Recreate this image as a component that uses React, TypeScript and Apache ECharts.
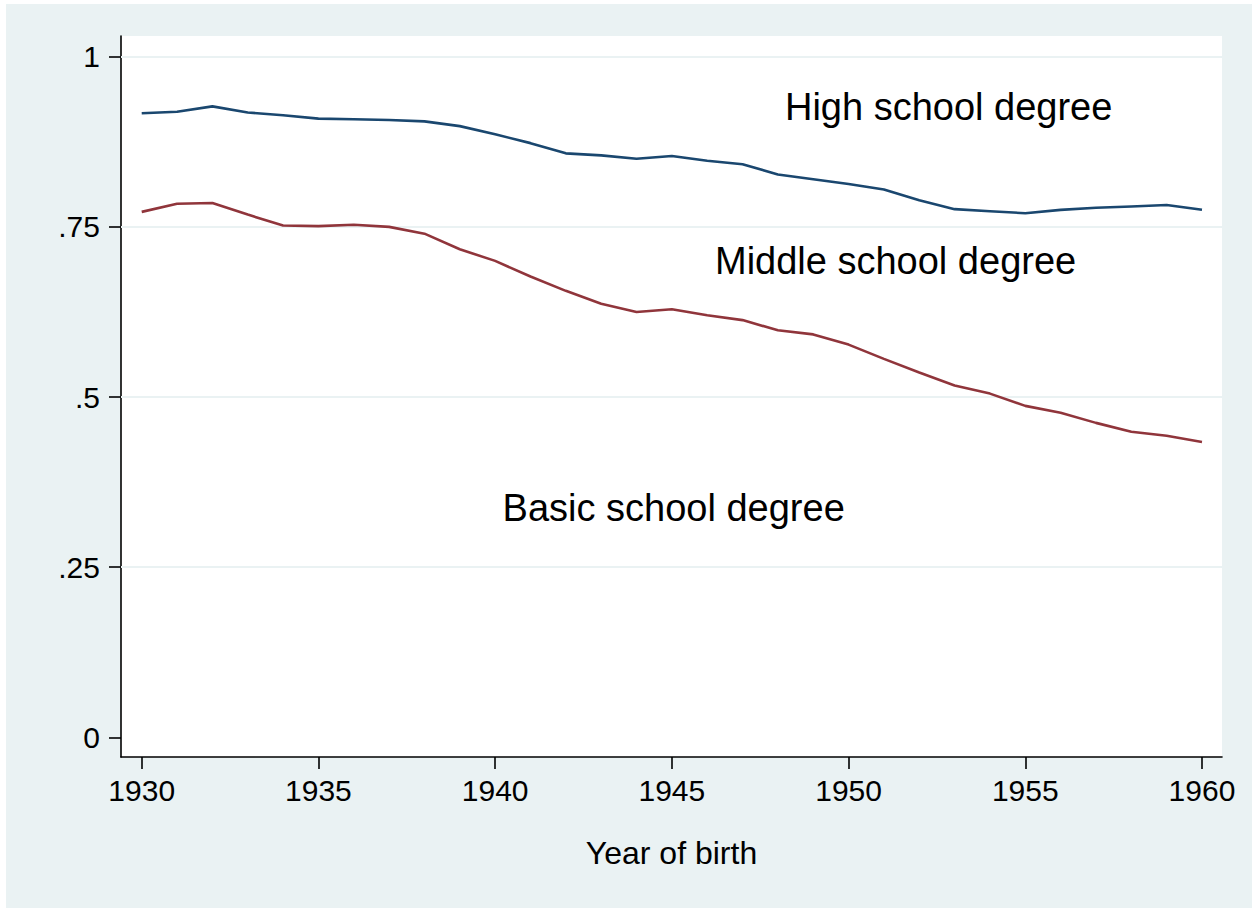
import React, { useEffect, useRef } from "react";
import * as echarts from "echarts";

const years = [
  1930, 1931, 1932, 1933, 1934, 1935, 1936, 1937, 1938, 1939,
  1940, 1941, 1942, 1943, 1944, 1945, 1946, 1947, 1948, 1949,
  1950, 1951, 1952, 1953, 1954, 1955, 1956, 1957, 1958, 1959, 1960,
];

// upper boundary (between middle and high school degree)
const upperShare = [
  0.917, 0.919, 0.927, 0.918, 0.914, 0.909, 0.908, 0.907, 0.905, 0.898,
  0.886, 0.873, 0.858, 0.855, 0.85, 0.854, 0.847, 0.842, 0.827, 0.82,
  0.813, 0.805, 0.789, 0.776, 0.773, 0.77, 0.775, 0.778, 0.78, 0.782, 0.775,
];

// lower boundary (between basic and middle school degree)
const lowerShare = [
  0.772, 0.784, 0.785, 0.768, 0.752, 0.751, 0.753, 0.75, 0.74, 0.717,
  0.7, 0.677, 0.656, 0.637, 0.625, 0.629, 0.62, 0.613, 0.598, 0.592,
  0.577, 0.556, 0.536, 0.517, 0.505, 0.487, 0.477, 0.462, 0.449, 0.443, 0.434,
];

const xTicks = [1930, 1935, 1940, 1945, 1950, 1955, 1960];
const yTicks = [0, 0.25, 0.5, 0.75, 1];
const yTickLabels = ["0", ".25", ".5", ".75", "1"];
const gridValues = [0.25, 0.5, 0.75, 1];

const annotationTexts = ["High school degree", "Middle school degree", "Basic school degree"];
const annotationX = [1948.2, 1946.22, 1940.21];
const annotationY = [0.9265, 0.6995, 0.3372];

const FONT = "'Liberation Sans', Arial, Helvetica, sans-serif";

export default function App() {
  const ref = useRef<HTMLDivElement>(null);

  useEffect(() => {
    document.body.style.margin = "0";
    if (!ref.current) return;
    const chart = echarts.init(ref.current, undefined, { renderer: "svg" });

    const option: any = {
      animation: false,
      backgroundColor: "#ffffff",
      graphic: [
        {
          type: "rect",
          z: -10,
          silent: true,
          shape: { x: 6, y: 4, width: 1246, height: 904 },
          style: { fill: "#EAF2F3" },
        },
      ],
      grid: {
        left: 121,
        top: 36,
        right: 30,
        bottom: 151,
        show: true,
        backgroundColor: "#ffffff",
        borderWidth: 0,
      },
      xAxis: {
        type: "value",
        min: 1929.414,
        max: 1960.566,
        name: "Year of birth",
        nameLocation: "middle",
        nameGap: 80,
        nameTextStyle: { fontFamily: FONT, fontSize: 32, color: "#000", verticalAlign: "top" },
        axisLine: { show: true, onZero: false, lineStyle: { color: "#000", width: 1.6 } },
        axisTick: { show: true, length: 12, customValues: xTicks, lineStyle: { color: "#000", width: 1.6 } },
        axisLabel: {
          show: true,
          customValues: xTicks,
          margin: 18,
          fontFamily: FONT,
          fontSize: 30,
          color: "#000",
          formatter: (v: number) => String(v),
        },
        splitLine: { show: false },
      },
      yAxis: {
        type: "value",
        min: -0.0289,
        max: 1.0304,
        axisLine: { show: true, onZero: false, lineStyle: { color: "#000", width: 1.6 } },
        axisTick: { show: true, length: 12, customValues: yTicks, lineStyle: { color: "#000", width: 1.6 } },
        axisLabel: {
          show: true,
          customValues: yTicks,
          margin: 21,
          fontFamily: FONT,
          fontSize: 30,
          color: "#000",
          formatter: (v: number) => {
            const i = yTicks.findIndex((t) => Math.abs(t - v) < 1e-6);
            return i >= 0 ? yTickLabels[i] : "";
          },
        },
        splitLine: { show: false },
      },
      series: [
        {
          name: "grid",
          type: "line",
          data: [],
          z: 1,
          silent: true,
          markLine: {
            silent: true,
            z: 1,
            symbol: "none",
            label: { show: false },
            lineStyle: { color: "#EAF2F3", width: 2, type: "solid" },
            data: gridValues.map((v) => ({ yAxis: v })),
          },
        },
        {
          name: "Upper boundary",
          type: "line",
          z: 3,
          data: years.map((y, i) => [y, upperShare[i]]),
          showSymbol: false,
          symbol: "none",
          lineStyle: { color: "#1A476F", width: 2.6 },
        },
        {
          name: "Lower boundary",
          type: "line",
          z: 3,
          data: years.map((y, i) => [y, lowerShare[i]]),
          showSymbol: false,
          symbol: "none",
          lineStyle: { color: "#90353B", width: 2.6 },
        },
        {
          name: "labels",
          type: "scatter",
          z: 4,
          symbolSize: 0,
          silent: true,
          data: annotationTexts.map((t, i) => ({ value: [annotationX[i], annotationY[i]], name: t })),
          label: {
            show: true,
            position: "right",
            distance: 0,
            formatter: (p: any) => p.name,
            fontFamily: FONT,
            fontSize: 38,
            color: "#000000",
            opacity: 1,
            textBorderWidth: 0,
          },
        },
      ],
    };

    chart.setOption(option);
    return () => chart.dispose();
  }, []);

  return <div ref={ref} style={{ width: 1252, height: 908 }} />;
}
